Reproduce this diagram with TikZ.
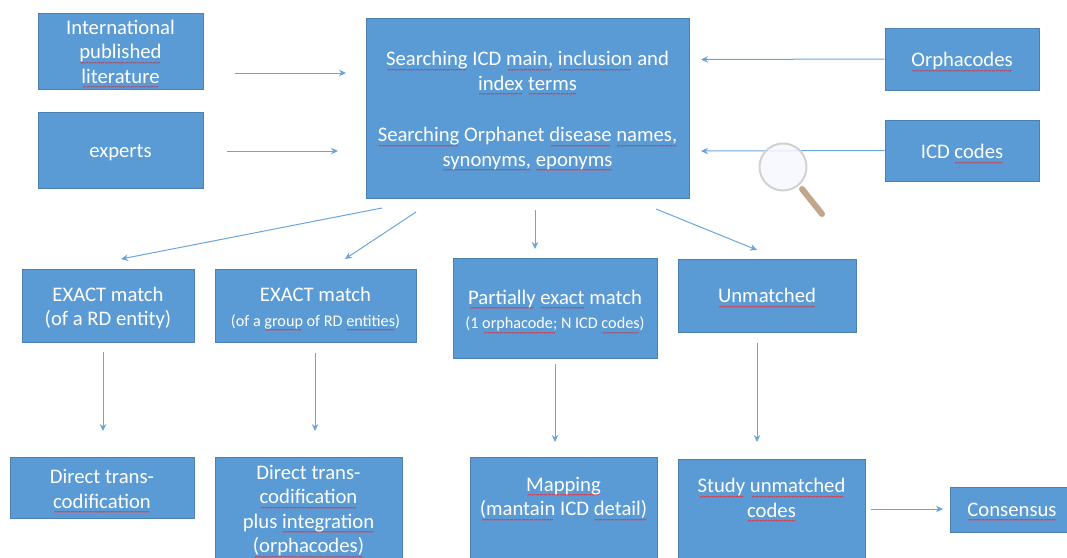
\documentclass[tikz,border=0pt]{standalone}
\usepackage{fontspec}
\setmainfont{Carlito}
\usetikzlibrary{arrows.meta}
\definecolor{boxfill}{HTML}{5B9BD5}
\definecolor{boxline}{HTML}{4A80B2}
\definecolor{flowline}{HTML}{6AA5DA}
\definecolor{squiggle}{HTML}{E0303C}
\newsavebox{\sqbox}
\newcommand{\sq}[1]{\sbox{\sqbox}{#1}\rlap{\raisebox{-6.5pt}[0pt][0pt]{\hbox to \wd\sqbox{\color{squiggle}\fontsize{8}{8}\selectfont\bfseries\cleaders\hbox{\char"7E}\hfill}}}\usebox{\sqbox}}
\newcommand{\smalltext}{\fontsize{16.2}{21}\selectfont}

\begin{document}
\begin{tikzpicture}[x=1pt,y=-1pt,>={Stealth[length=7pt,width=6.5pt]},
  main box/.style={rectangle,draw=boxline,line width=1pt,fill=boxfill,inner sep=0pt},
  box text/.style={text=white,align=center,inner sep=0pt,font=\fontsize{20.7}{24.5}\selectfont},
  flow/.style={->,draw=flowline,line width=1pt}]
  \useasboundingbox (0,0) rectangle (1067,557);
  \clip (0,0) rectangle (1067,557);
% nodes
  \node[main box,minimum width=165pt,minimum height=76pt,label={[box text,yshift=-0.5pt]center:{International\\\sq{published}\\\sq{literature}}}] (literature) at (120.5,51) {};
  \node[main box,minimum width=165pt,minimum height=76pt,label={[box text,yshift=-3pt]center:{experts}}] (experts) at (120.5,150) {};
  \node[main box,minimum width=323pt,minimum height=180pt,label={[box text,yshift=-2.5pt]center:{\sq{Searching} ICD \sq{main,} \sq{inclusion} and\\\sq{index} \sq{terms}\\[27pt]\sq{Searching} Orphanet \sq{disease} \sq{names,}\\\sq{synonyms,} \sq{eponyms}}}] (search) at (527.5,108) {};
  \node[main box,minimum width=154pt,minimum height=62pt,label={[box text,yshift=-2pt]center:{\sq{Orphacodes}}}] (orphacodes) at (962,59) {};
  \node[main box,minimum width=154pt,minimum height=61pt,label={[box text,yshift=-1pt]center:{ICD \sq{codes}}}] (icdcodes) at (962,150.5) {};
  \node[main box,minimum width=172pt,minimum height=73pt,label={[box text,yshift=-2.5pt]center:{EXACT match\\(of a RD entity)}}] (exact1) at (108,305.5) {};
  \node[main box,minimum width=201pt,minimum height=73pt,label={[box text,yshift=-2.5pt]center:{EXACT match\\{\smalltext (of a \sq{group} of RD \sq{entities})}}}] (exact2) at (315.5,305.5) {};
  \node[main box,minimum width=204pt,minimum height=100pt,label={[box text,yshift=-2.5pt]center:{\sq{Partially} \sq{exact} match\\{\smalltext (1 \sq{orphacode;} N ICD \sq{codes})}}}] (partial) at (555,308) {};
  \node[main box,minimum width=178pt,minimum height=73pt,label={[box text]center:{\sq{Unmatched}}}] (unmatched) at (767,295.5) {};
  \node[main box,minimum width=184pt,minimum height=61pt,label={[box text,yshift=-1.5pt]center:{Direct trans-\\\sq{codification}}}] (direct1) at (102,487.5) {};
  \node[main box,minimum width=187pt,minimum height=102pt,label={[box text,yshift=-2.5pt]center:{Direct trans-\\\sq{codification}\\plus \sq{integration}\\\sq{(orphacodes)}}}] (direct2) at (308.5,508) {};
  \node[main box,minimum width=187pt,minimum height=128pt,label={[box text,yshift=23pt]center:{\sq{Mapping}\\\sq{(mantain} ICD \sq{detail)}}}] (mapping) at (563.5,521) {};
  \node[main box,minimum width=187pt,minimum height=124pt,label={[box text,yshift=23pt]center:{\sq{Study} \sq{unmatched}\\\sq{codes}}}] (study) at (771.5,521) {};
  \node[main box,minimum width=140pt,minimum height=45pt,label={[box text,xshift=-8pt]center:{\sq{Consensus}}}] (consensus) at (1020,509.5) {};
% free ends
  \coordinate (lit out) at (235,73);
  \coordinate (lit in) at (346,73);
  \coordinate (exp out) at (227,151);
  \coordinate (exp in) at (338,151);
  \coordinate (orpha in) at (701,59.5);
  \coordinate (icd in) at (701,151);
  \coordinate (a out) at (382,208);
  \coordinate (a in) at (121,259);
  \coordinate (b out) at (416,212);
  \coordinate (b in) at (345,259);
  \coordinate (c out) at (535,210);
  \coordinate (c in) at (535,249);
  \coordinate (d out) at (656,209);
  \coordinate (d in) at (757,250);
  \coordinate (e out) at (103,352);
  \coordinate (e in) at (103,431);
  \coordinate (f out) at (315,353);
  \coordinate (f in) at (315,431);
  \coordinate (g out) at (555,364);
  \coordinate (g in) at (555,442);
  \coordinate (h out) at (757,343);
  \coordinate (h in) at (757,442);
  \coordinate (i out) at (871,509);
  \coordinate (i in) at (943,509);
%edges
  \draw[flow] (lit out) -- (lit in);
  \draw[flow] (exp out) -- (exp in);
  \draw[flow] (orphacodes.west) -- (orpha in);
  \draw[flow] (icdcodes.west) -- (icd in);
  \draw[flow] (a out) -- (a in);
  \draw[flow] (b out) -- (b in);
  \draw[flow] (c out) -- (c in);
  \draw[flow] (d out) -- (d in);
  \draw[flow] (e out) -- (e in);
  \draw[flow] (f out) -- (f in);
  \draw[flow] (g out) -- (g in);
  \draw[flow] (h out) -- (h in);
  \draw[flow] (i out) -- (i in);
% magnifier
  \draw[line cap=round,line width=6pt,color=brown!60!gray!70] (802,189) -- (822,214);
  \draw[line width=2pt,draw=gray!35,fill=blue!3,fill opacity=0.85] (783,167) circle (23.5);
\end{tikzpicture}
\end{document}
